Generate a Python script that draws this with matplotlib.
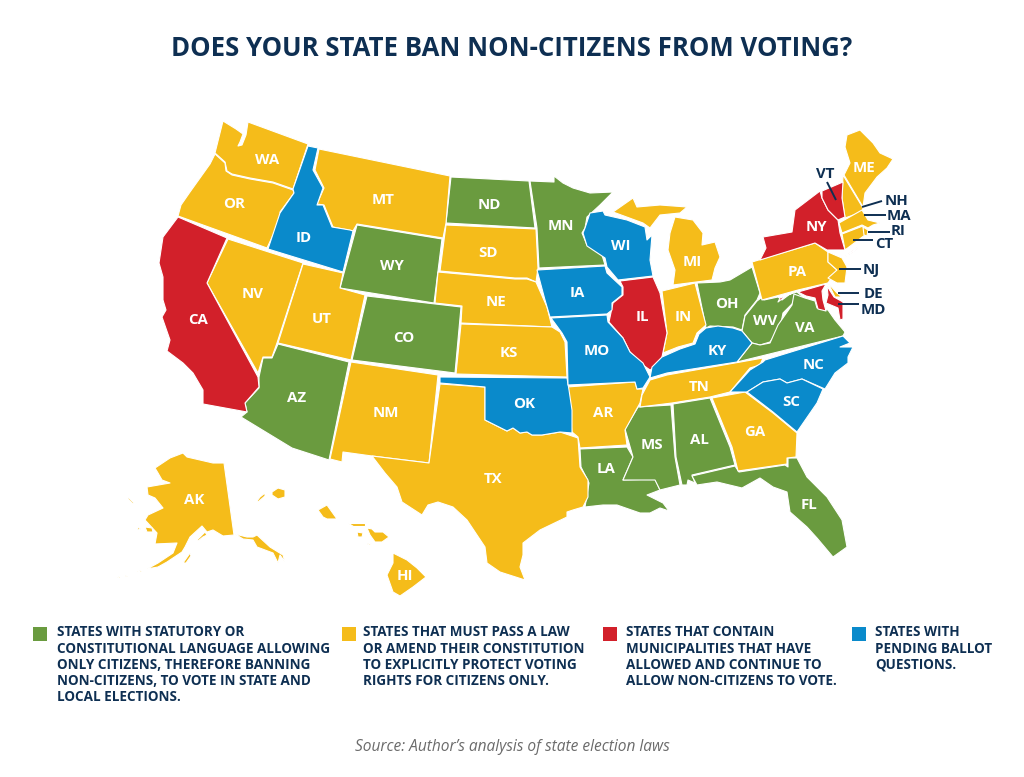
import matplotlib
matplotlib.use("Agg")
import matplotlib.pyplot as plt
from matplotlib.patches import Polygon, Rectangle

plt.rcParams['font.family'] = ['Open Sans', 'DejaVu Sans']

TITLE = "DOES YOUR STATE BAN NON-CITIZENS FROM VOTING?"
SOURCE = "Source: Author\u2019s analysis of state election laws"
NAVY = "#0e2f52"
GREEN, YELLOW, RED, BLUE = "#6a9b3f", "#f5bc1a", "#d2202a", "#0a8acb"

# state outlines (map units)
WA = [[(223,121),(236,129),(243,134),(240,142),(238,146),(242,145),(246,135),(248,122),(308,144),(293,189),(273,182),(250,178),(232,174),(227,171),(225,162),(215,153)]]
OR = [[(215,154),(225,163),(226,171),(232,175),(250,179),(273,183),(293,190),(294,193),(280,212),(281,218),(267,248),(178,216),(181,205),(190,192),(200,178),(210,164)]]
CA = [[(178,217),(227,238),(207,283),(258,377),(259,387),(245,403),(247,412),(203,404),(203,390),(193,373),(183,363),(167,351),(170,340),(162,317),(166,310),(163,300),(163,277),(159,263),(163,237)]]
NV = [[(228,239),(303,263),(277,343),(272,357),(263,357),(258,373),(207,283)]]
ID = [[(308,146),(318,148),(313,170),(323,188),(317,205),(323,205),(332,227),(350,230),(353,231),(343,272),(268,249),(280,213),(294,193),(293,189)]]
MT = [[(319,149),(450,176),(446,223),(443,238),(357,224),(353,231),(333,227),(324,205),(317,204),(324,188),(315,170)]]
WY = [[(357,225),(442,239),(434,303),(340,288)]]
UT = [[(303,264),(343,273),(340,288),(365,295),(351,360),(278,343)]]
CO = [[(367,296),(461,307),(455,373),(352,360)]]
AZ = [[(278,344),(349,362),(329,460),(292,448),(241,417),(247,412),(245,403),(259,388),(259,377),(263,358),(272,358)]]
NM = [[(351,362),(438,375),(429,463),(372,456),(343,452),(342,462),(330,459)]]
TX = [[(440,384),(485,387),(485,420),(507,431),(513,428),(520,433),(527,432),(532,435),(542,435),(560,432),(578,438),(580,467),(588,480),(588,497),(583,507),(573,510),(567,512),(567,517),(540,530),(523,543),(523,555),(520,567),(525,580),(500,572),(487,563),(485,547),(467,520),(453,507),(438,502),(428,505),(422,515),(402,502),(397,487),(385,473),(372,456),(429,463)]]
OK = [[(440,377),(567,378),(569,390),(572,410),(572,433),(560,432),(542,435),(532,435),(527,432),(520,433),(513,428),(507,431),(485,420),(485,387),(440,383)]]
ND = [[(451,177),(529,181),(535,228),(446,223)]]
SD = [[(446,225),(536,229),(538,268),(536,282),(527,278),(515,278),(440,271)]]
NE = [[(438,272),(515,279),(527,279),(536,282),(547,307),(552,327),(461,323),(462,306),(435,303)]]
KS = [[(461,324),(552,327),(560,332),(565,342),(567,377),(456,374)]]
MN = [[(530,181),(554,182),(554,176),(563,183),(573,188),(590,193),(613,192),(600,205),(587,217),(585,228),(582,233),(587,245),(602,255),(605,265),(539,268),(537,228)]]
IA = [[(537,270),(605,266),(607,273),(622,287),(622,295),(612,303),(612,310),(607,314),(550,317),(545,300)]]
MO = [[(551,318),(607,315),(608,322),(623,338),(630,352),(643,363),(650,377),(643,388),(637,389),(635,382),(568,385),(567,342),(562,333)]]
WI = [[(590,213),(603,211),(605,215),(627,220),(645,227),(647,240),(652,235),(650,260),(653,276),(618,280),(607,267),(605,258),(587,246),(583,233),(585,228)]]
IL = [[(620,281),(653,277),(660,293),(667,333),(662,357),(660,363),(650,370),(643,365),(630,352),(623,338),(609,322),(613,303),(623,295),(623,287)]]
MI = [[(613,212),(633,198),(637,207),(660,205),(687,207),(680,213),(660,215),(650,228),(643,223)],
      [(675,217),(693,220),(703,233),(702,245),(715,242),(720,257),(715,268),(712,280),(673,285),(675,270),(668,250),(670,233)]]
IN = [[(662,291),(695,283),(706,325),(697,333),(693,343),(678,347),(663,353),(667,333)]]
OH = [[(697,283),(720,282),(730,280),(752,267),(760,293),(757,300),(745,315),(742,330),(733,327),(710,326),(706,328)]]
KY = [[(650,378),(652,367),(662,357),(680,349),(695,344),(699,334),(706,328),(718,326),(733,328),(742,331),(752,343),(737,362),(667,373)]]
TN = [[(650,380),(667,375),(763,358),(760,365),(750,368),(730,392),(710,397),(672,403),(640,407),(642,395)]]
AR = [[(567,387),(635,382),(637,389),(643,389),(640,403),(625,430),(627,445),(580,448),(578,437),(572,432)]]
LA = [[(580,449),(627,447),(633,457),(623,480),(655,479),(660,490),(647,495),(663,503),(669,511),(660,508),(650,513),(640,513),(617,505),(603,505),(585,507),(589,483),(581,467)]]
MS = [[(638,407),(671,405),(675,457),(680,485),(660,490),(655,480),(623,480),(633,457),(625,429)]]
AL = [[(673,404),(710,398),(730,447),(735,465),(692,475),(695,483),(688,480),(687,485),(682,485),(676,457)]]
GA = [[(712,398),(745,392),(773,413),(797,433),(796,457),(787,458),(787,464),(738,471),(732,447)]]
FL = [[(692,476),(735,466),(739,472),(785,465),(788,467),(788,458),(797,458),(807,477),(827,497),(842,520),(847,547),(833,557),(817,538),(807,527),(790,512),(787,492),(773,487),(760,478),(742,488),(717,482),(697,485)]]
SC = [[(747,392),(763,382),(780,379),(787,383),(802,379),(823,389),(817,403),(797,432),(773,412)]]
NC = [[(730,392),(750,370),(763,362),(765,360),(843,336),(850,343),(840,347),(853,347),(848,357),(848,363),(835,373),(825,389),(802,379),(787,383),(780,379),(763,382),(747,392)]]
VA = [[(737,362),(752,343),(760,345),(770,343),(778,325),(792,305),(794,294),(805,298),(815,301),(817,308),(828,310),(835,320),(845,332),(843,336)]]
WV = [[(742,331),(745,316),(757,301),(761,298),(764,300),(778,297),(782,300),(790,294),(797,292),(803,297),(803,300),(797,297),(793,303),(783,313),(780,328),(770,342),(760,345),(752,343)]]
PA = [[(752,262),(815,243),(828,252),(828,262),(837,270),(828,283),(798,290),(762,300)]]
NY = [[(760,260),(766,248),(763,237),(792,232),(795,210),(820,191),(822,198),(828,210),(838,220),(840,233),(845,250),(827,250),(815,243)],
      [(843,258),(862,244),(853,252)]]
VT = [[(822,191),(843,182),(842,198),(845,217),(838,220),(828,210),(822,198)]]
NH = [[(843,175),(863,208),(862,212),(845,218),(842,198)]]
ME = [[(847,135),(860,130),(873,143),(880,153),(893,159),(887,168),(877,177),(865,193),(863,207),(844,175),(850,163),(845,147)]]
MA = [[(839,223),(862,210),(868,220),(880,223),(873,225),(868,228),(862,225),(842,233)]]
CT = [[(842,234),(863,226),(865,235),(845,250)]]
RI = [[(863,227),(868,230),(867,236),(864,235)]]
NJ = [[(828,252),(842,258),(847,267),(845,283),(837,283),(828,278),(837,270),(828,262)]]
DE = [[(828,283),(837,293),(842,297),(835,297)]]
MD = [[(798,292),(826,284),(822,291),(823,300),(826,311),(818,309),(815,298),(806,296)],
      [(827,286),(834,297),(843,302),(843,319),(840,320),(838,308),(826,303),(828,295)],
      [(778,302),(787,295),(793,293),(780,298)]]
AK = [[(155,468),(170,458),(183,453),(187,457),(213,463),(224,463),(234,535),(223,536),(213,530),(207,532),(202,526),(190,537),(185,547),(182,552),(167,562),(158,567),(147,569),(158,563),(173,553),(177,543),(155,544),(157,533),(145,520),(148,515),(163,508),(155,498),(148,495),(147,487),(170,483),(162,480),(158,473)],
      [(235,534),(247,537),(253,537),(257,535),(270,547),(283,555),(285,562),(280,555),(278,563),(273,553),(257,547),(253,540),(243,539)],
      [(197,540),(205,532),(207,535),(203,537),(198,541)],
      [(183,563),(190,553),(191,556),(186,563)],
      [(128,497),(134,503),(133,504),(128,499)],
      [(145,527),(152,528),(153,532),(147,532)],
      [(137,527),(141,529),(138,530)],
      [(117,578),(120,576),(120,578)],[(125,576),(128,575),(127,577)],[(137,572),(142,570),(141,572)]]
HI = [[(272,492),(278,488),(285,490),(285,497),(278,499),(272,495)],
      [(257,501),(260,497),(265,493),(265,496),(258,502)],
      [(318,510),(327,505),(332,512),(337,519),(327,519),(323,517)],
      [(348,523),(365,523),(365,526),(353,526)],
      [(357,532),(363,533),(362,537),(358,537)],
      [(367,528),(372,529),(375,532),(383,532),(389,537),(382,542),(375,542),(370,535)],
      [(367,544),(372,543),(370,545)],
      [(393,553),(407,560),(417,568),(426,577),(413,587),(400,596),(393,592),(387,575),(393,563)]]

GREEN_STATES = [WY, CO, AZ, ND, MN, LA, MS, AL, FL, OH, WV, VA]
YELLOW_STATES = [WA, OR, NV, MT, UT, NM, TX, SD, NE, KS, AR, MI, IN, TN, GA, PA, ME, NH, MA, CT, RI, NJ, DE, AK, HI]
RED_STATES = [CA, IL, NY, VT, MD]
BLUE_STATES = [ID, OK, IA, MO, WI, KY, NC, SC]

MAP_LABELS = {"WA":(267,160),"OR":(234,204),"CA":(198,320),"NV":(253,294),"ID":(304,238),"MT":(383,200),
              "WY":(392,266),"UT":(322,319),"CO":(404,338),"AZ":(297,398),"NM":(386,413),"ND":(489,205),
              "SD":(488,253),"NE":(496,302),"KS":(509,353),"OK":(524,404),"TX":(493,479),"MN":(561,226),
              "IA":(577,293),"MO":(597,351),"AR":(603,413),"LA":(606,469),"WI":(621,246),"IL":(642,317),
              "MI":(692,262),"IN":(683,317),"OH":(727,304),"KY":(717,351),"TN":(699,387),"MS":(652,445),
              "AL":(699,440),"GA":(755,432),"FL":(809,505),"SC":(791,402),"NC":(814,365),"WV":(765,321),
              "VA":(805,328),"PA":(797,272),"NY":(816,227),"ME":(864,168),"AK":(194,500),"HI":(405,576)}

CALLOUTS = [("VT",(825,174),(827,182),(836,200)),("NH",(896,201),(862,207),(882,201)),
            ("MA",(899,216),(864,215),(886,215)),("RI",(898,231),(868,232),(890,232)),
            ("CT",(884,244),(853,240),(873,240)),("NJ",(871,270),(839,269),(861,269)),
            ("DE",(873,294),(838,293),(859,293)),("MD",(873,310),(838,304),(859,304))]

LEGEND_TEXTS = ["STATES WITH STATUTORY OR\nCONSTITUTIONAL LANGUAGE ALLOWING\nONLY CITIZENS, THEREFORE BANNING\nNON-CITIZENS, TO VOTE IN STATE AND\nLOCAL ELECTIONS.",
                "STATES THAT MUST PASS A LAW\nOR AMEND THEIR CONSTITUTION\nTO EXPLICITLY PROTECT VOTING\nRIGHTS FOR CITIZENS ONLY.",
                "STATES THAT CONTAIN\nMUNICIPALITIES THAT HAVE\nALLOWED AND CONTINUE TO\nALLOW NON-CITIZENS TO VOTE.",
                "STATES WITH\nPENDING BALLOT\nQUESTIONS."]
LEGEND_SWATCH_X = [33, 342, 603, 852]
LEGEND_TEXT_X = [57, 363, 626, 875]
LEGEND_COLORS = [GREEN, YELLOW, RED, BLUE]

fig = plt.figure(figsize=(10.24, 7.77), dpi=100, facecolor="white")
ax = fig.add_axes([0, 0, 1, 1])
ax.set_xlim(0, 1024)
ax.set_ylim(777, 0)
ax.axis("off")

for group, color in zip([GREEN_STATES, YELLOW_STATES, RED_STATES, BLUE_STATES], LEGEND_COLORS):
    for state in group:
        for part in state:
            ax.add_patch(Polygon(part, closed=True, facecolor=color, edgecolor="white",
                                 linewidth=0.8, joinstyle="round"))

for name, (x, y) in MAP_LABELS.items():
    ax.text(x, y, name, color="white", fontsize=10.8, fontweight="bold", ha="center", va="center")

for name, (lx, ly), p0, p1 in CALLOUTS:
    ax.plot([p0[0], p1[0]], [p0[1], p1[1]], color=NAVY, lw=1.4, solid_capstyle="butt")
    ax.text(lx, ly, name, color=NAVY, fontsize=10.8, fontweight="bold", ha="center", va="center")

ax.text(512, 48.5, TITLE, color=NAVY, fontsize=18.5, fontweight="bold", ha="center", va="center")

for sx, tx, txt, col in zip(LEGEND_SWATCH_X, LEGEND_TEXT_X, LEGEND_TEXTS, LEGEND_COLORS):
    ax.add_patch(Rectangle((sx, 627), 14, 14, facecolor=col, edgecolor="none"))
    ax.text(tx, 625.5, txt, color=NAVY, fontsize=9.75, fontweight="bold", ha="left", va="top", linespacing=1.19)

ax.text(512, 747, SOURCE, color="#6b6b6b", fontsize=11.2, style="italic", ha="center", va="center")

fig.savefig("out.png", dpi=100)
